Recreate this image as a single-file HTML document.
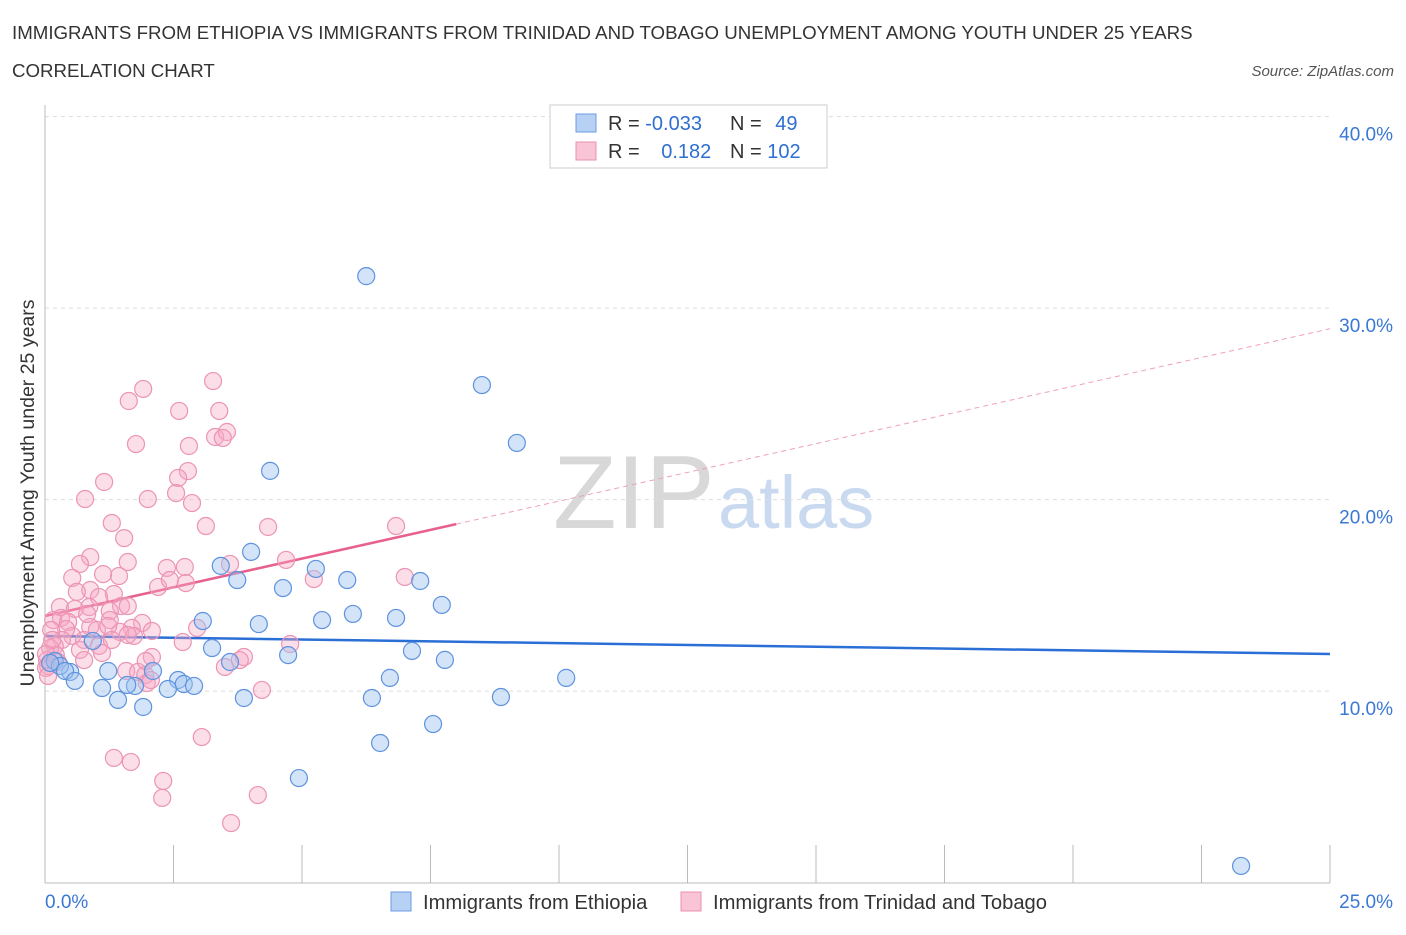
<!DOCTYPE html>
<html><head><meta charset="utf-8"><style>
body{margin:0;background:#fff;font-family:"Liberation Sans",sans-serif;}
svg text{font-family:"Liberation Sans",sans-serif;}
</style></head><body>
<svg id="chart" width="1406" height="930" xmlns="http://www.w3.org/2000/svg">
<text x="12" y="39" font-size="18.7" fill="#333">IMMIGRANTS FROM ETHIOPIA VS IMMIGRANTS FROM TRINIDAD AND TOBAGO UNEMPLOYMENT AMONG YOUTH UNDER 25 YEARS</text>
<text x="12" y="77" font-size="18.7" fill="#333">CORRELATION CHART</text>
<text x="1394" y="76" font-size="15" fill="#555" text-anchor="end" font-style="italic">Source: ZipAtlas.com</text>
<g>
<text x="553" y="528" font-size="104" fill="#d8d8d8" font-family="Liberation Serif, serif">ZIP</text>
<text x="718" y="528" font-size="74" fill="#c9daf0">atlas</text>
</g>
<g id="grid"></g>
<g id="axes"></g>
<g id="trends"></g>
<g id="pts"></g>
<text transform="translate(34,493) rotate(-90)" font-size="19.5" fill="#333" text-anchor="middle">Unemployment Among Youth under 25 years</text>
<g>
<rect x="550" y="105" width="277" height="63" fill="#fff" stroke="#ccc"/>
<rect x="576" y="114" width="20" height="18" fill="#b7d1f5" stroke="#6a9be0"/>
<rect x="576" y="142" width="20" height="18" fill="#f9c5d6" stroke="#e890ae"/>
<text x="608" y="130" font-size="20" fill="#333">R = <tspan fill="#2f6fd0">-0.033</tspan></text>
<text x="730" y="130" font-size="20" fill="#333">N = <tspan fill="#2f6fd0" dx="8">49</tspan></text>
<text x="608" y="158" font-size="20" fill="#333">R = <tspan fill="#2f6fd0" dx="16">0.182</tspan></text>
<text x="730" y="158" font-size="20" fill="#333">N = <tspan fill="#2f6fd0">102</tspan></text>
</g>
<g>
<rect x="391" y="892" width="20" height="19" fill="#b7d1f5" stroke="#6a9be0"/>
<text x="423" y="909" font-size="20.2" fill="#333">Immigrants from Ethiopia</text>
<rect x="681" y="892" width="20" height="19" fill="#f9c5d6" stroke="#e890ae"/>
<text x="713" y="909" font-size="20.2" fill="#333">Immigrants from Trinidad and Tobago</text>
</g>
</svg>
<script>
const blueX=[6.25,8.50,9.18,4.38,4.01,3.42,3.74,5.27,5.88,7.30,4.63,7.72,5.99,6.83,5.39,3.07,4.16,0.93,3.25,4.73,7.14,7.78,3.60,2.10,1.23,10.14,6.71,2.59,0.49,2.70,2.90,1.75,1.60,1.11,2.39,6.36,8.87,3.87,1.42,1.91,7.55,6.52,4.94,23.27,0.19,0.29,0.10,0.39,0.58];
const blueY=[31.67,25.98,22.96,21.50,17.27,16.54,15.80,16.38,15.80,15.75,15.38,14.50,14.03,13.82,13.71,13.66,13.50,12.62,12.25,11.88,12.10,11.63,11.52,11.05,11.05,10.69,10.69,10.58,11.00,10.37,10.27,10.27,10.32,10.16,10.11,9.64,9.69,9.64,9.54,9.17,8.28,7.29,5.46,0.87,11.57,11.31,11.47,11.05,10.53];
const pinkX=[3.27,1.91,1.63,2.61,3.39,1.77,2.80,3.31,3.54,3.46,2.78,1.15,2.59,2.55,2.00,0.78,2.86,3.13,4.34,6.83,1.30,1.54,0.88,1.61,0.68,1.44,1.13,0.53,2.72,4.69,3.60,5.23,7.00,2.20,0.88,1.34,0.62,1.05,2.74,2.37,0.29,1.48,0.86,1.26,0.58,1.26,0.31,1.89,2.96,1.69,0.88,0.16,0.45,0.53,0.41,1.46,0.33,2.08,2.68,4.77,1.05,0.76,1.73,0.68,0.19,0.12,0.10,0.04,0.25,0.06,2.08,3.87,3.79,3.50,1.58,1.81,1.95,1.98,2.06,4.22,0.76,1.01,0.82,1.34,1.67,3.05,2.30,2.28,4.14,3.62,1.23,0.21,0.14,1.61,0.02,0.02,1.11,1.96,1.61,1.30,2.43,0.06];
const pinkY=[26.19,25.78,25.15,24.63,24.63,22.90,22.80,23.27,23.53,23.22,21.49,20.92,21.13,20.34,20.03,20.03,19.82,18.62,18.57,18.62,18.78,17.99,17.00,16.74,16.64,16.01,16.11,15.91,16.48,16.85,16.64,15.85,15.96,15.44,15.28,15.07,15.18,14.91,15.64,16.43,14.39,14.44,14.39,14.18,14.29,13.71,13.82,13.56,13.30,13.30,13.35,13.71,13.61,12.88,13.24,13.09,12.67,13.14,12.56,12.46,12.36,12.67,12.88,12.15,12.36,13.19,12.25,11.62,11.52,11.31,11.78,11.78,11.62,11.26,11.05,11.00,10.84,10.42,10.58,10.06,11.62,13.19,14.03,6.51,6.30,7.60,5.31,4.42,4.57,3.11,13.40,11.89,12.67,14.44,11.94,11.21,11.99,11.57,12.93,12.67,15.80,10.79];
const yTicks=[10,20,30,40];
const yTickLabels=["10.0%","20.0%","30.0%","40.0%"];
const xTicks=[0,2.5,5,7.5,10,12.5,15,17.5,20,22.5,25];
const blueTrend=[12.88,-0.0376];   // intercept, slope
const pinkTrend=[13.92,0.60];
const pinkSolidEnd=8.0;

const X=v=>45+v*51.4, Y=v=>882.6-v*19.15;
const NS="http://www.w3.org/2000/svg";
function mk(tag,attrs,parent){const e=document.createElementNS(NS,tag);for(const k in attrs)e.setAttribute(k,attrs[k]);document.getElementById(parent).appendChild(e);return e;}

yTicks.forEach((t,i)=>{
  const l=mk('line',{x1:45,x2:1330,y1:Y(t),y2:Y(t),stroke:'#ddd','stroke-dasharray':'4,4'},'grid');
  
  
  const tx=mk('text',{x:1393,y:Y(t)+24,'font-size':19,fill:'#3a78d4','text-anchor':'end'},'axes');
  tx.textContent=yTickLabels[i];
  
  
});
const ya=mk('line',{x1:45,x2:45,y1:105,y2:883,stroke:'#bbb'},'axes');


const xa=mk('line',{x1:45,x2:1330,y1:883,y2:883,stroke:'#bbb'},'axes');


xTicks.forEach(t=>{
  const l=mk('line',{x1:X(t),x2:X(t),y1:845,y2:883,stroke:'#bbb'},'axes');
  
  
});
const x0=mk('text',{x:45,y:908,'font-size':19,fill:'#3a78d4'},'axes');x0.textContent='0.0%';


const x1=mk('text',{x:1393,y:908,'font-size':19,fill:'#3a78d4','text-anchor':'end'},'axes');x1.textContent='25.0%';



pinkX.forEach((v,i)=>{
  const c=mk('circle',{cx:X(v),cy:Y(pinkY[i]),r:8.5,fill:'rgba(246,168,196,0.38)',stroke:'#eb94b3','stroke-width':1.2},'pts');
  
  
});
blueX.forEach((v,i)=>{
  const c=mk('circle',{cx:X(v),cy:Y(blueY[i]),r:8.5,fill:'rgba(160,196,240,0.45)',stroke:'#5e92df','stroke-width':1.2},'pts');
  
  
});
const bt=mk('line',{x1:X(0),y1:Y(blueTrend[0]),x2:X(25),y2:Y(blueTrend[0]+25*blueTrend[1]),stroke:'#2a6fd6','stroke-width':2.5},'trends');


const pt=mk('line',{x1:X(0),y1:Y(pinkTrend[0]),x2:X(pinkSolidEnd),y2:Y(pinkTrend[0]+pinkSolidEnd*pinkTrend[1]),stroke:'#e8608d','stroke-width':2.5},'trends');


const pd=mk('line',{x1:X(pinkSolidEnd),y1:Y(pinkTrend[0]+pinkSolidEnd*pinkTrend[1]),x2:X(25),y2:Y(pinkTrend[0]+25*pinkTrend[1]),stroke:'#eea0ba','stroke-width':1,'stroke-dasharray':'5,4'},'trends');


</script>
</body></html>
